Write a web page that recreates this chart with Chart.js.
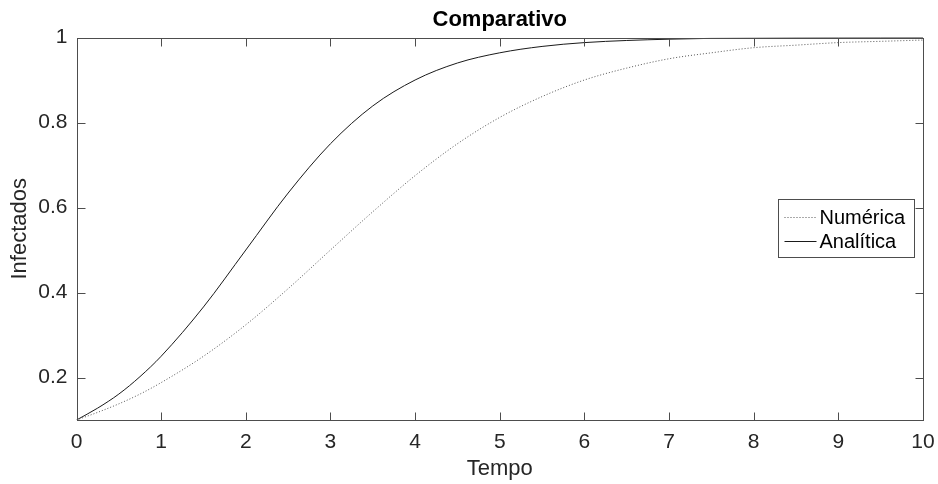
<!DOCTYPE html>
<html>
<head>
<meta charset="utf-8">
<title>Comparativo</title>
<script src="https://cdn.jsdelivr.net/npm/chart.js@4.4.1/dist/chart.umd.min.js"></script>
<style>
  html, body { margin: 0; padding: 0; background: #fff; }
  #wrap { width: 938px; height: 484px; }
</style>
</head>
<body>
<div id="wrap"><canvas id="chart" width="938" height="484"></canvas></div>
<script>
// --- data ---
const TEMPO = [0, 0.25, 0.5, 0.75, 1, 1.5, 2, 2.5, 3, 3.5, 4, 4.5, 5, 5.5, 6, 6.5, 7, 7.5, 8, 8.5, 9, 9.5, 10];
const NUMERICA = [0.1, 0.118, 0.138, 0.161, 0.188, 0.25, 0.324, 0.409, 0.5, 0.59, 0.675, 0.75, 0.812, 0.861, 0.9, 0.928, 0.95, 0.964, 0.976, 0.982, 0.988, 0.991, 0.994];
const ANALITICA = [0.1, 0.128, 0.161, 0.202, 0.25, 0.366, 0.5, 0.634, 0.75, 0.839, 0.9, 0.94, 0.964, 0.979, 0.988, 0.993, 0.996, 0.998, 0.9986, 0.9992, 0.9995, 0.9997, 0.9998];
const X_TICKS = [0, 1, 2, 3, 4, 5, 6, 7, 8, 9, 10];
const Y_TICKS = [0.2, 0.4, 0.6, 0.8, 1];
const SERIES_LABELS = ['Numérica', 'Analítica'];

const FONT = '"Liberation Sans", Arial, Helvetica, sans-serif';
const INK = '#262626';

const toPoints = (ys) => TEMPO.map((t, i) => ({ x: t, y: ys[i] }));

// MATLAB-ish box, inward ticks on all four sides, title over the plot area
const axesBox = {
  id: 'axesBox',
  afterDatasetsDraw(chart) {
    const { ctx, chartArea: a, scales } = chart;
    const L = Math.round(a.left) + 0.5, R = Math.round(a.right) + 0.5;
    const T = Math.round(a.top) + 0.5, B = Math.round(a.bottom) + 0.5;
    const len = 8;
    ctx.save();
    ctx.strokeStyle = '#4d4d4d';
    ctx.lineWidth = 1;
    ctx.strokeRect(L, T, R - L, B - T);
    ctx.beginPath();
    scales.x.ticks.forEach(tk => {
      const px = Math.round(scales.x.getPixelForValue(tk.value)) + 0.5;
      ctx.moveTo(px, B); ctx.lineTo(px, B - len);
      ctx.moveTo(px, T); ctx.lineTo(px, T + len);
    });
    scales.y.ticks.forEach(tk => {
      const py = Math.round(scales.y.getPixelForValue(tk.value)) + 0.5;
      ctx.moveTo(L, py); ctx.lineTo(L + len, py);
      ctx.moveTo(R, py); ctx.lineTo(R - len, py);
    });
    ctx.stroke();

    // title
    ctx.fillStyle = '#000';
    ctx.font = 'bold 22px ' + FONT;
    ctx.textAlign = 'center';
    ctx.textBaseline = 'alphabetic';
    ctx.fillText('Comparativo', (a.left + a.right) / 2, 26);
    ctx.restore();
  }
};

// legend box inside the plot, right middle
const boxLegend = {
  id: 'boxLegend',
  afterDraw(chart) {
    const { ctx } = chart;
    const x0 = 778.5, y0 = 199.5, w = 136, h = 58;
    ctx.save();
    ctx.fillStyle = '#fff';
    ctx.fillRect(x0, y0, w, h);
    ctx.strokeStyle = '#4d4d4d';
    ctx.lineWidth = 1;
    ctx.strokeRect(x0, y0, w, h);
    ctx.font = '20px ' + FONT;
    ctx.textAlign = 'left';
    ctx.textBaseline = 'middle';
    chart.data.datasets.forEach((ds, i) => {
      const y = Math.round(y0 + 17 + i * 24) + 0.5;
      ctx.strokeStyle = ds.borderColor;
      ctx.setLineDash(ds.borderDash || []);
      ctx.beginPath();
      ctx.moveTo(x0 + 6, y);
      ctx.lineTo(x0 + 38, y);
      ctx.stroke();
      ctx.setLineDash([]);
      ctx.fillStyle = '#000';
      ctx.fillText(ds.label, x0 + 41, y + 1);
    });
    ctx.restore();
  }
};

new Chart(document.getElementById('chart'), {
  type: 'line',
  data: {
    datasets: [
      {
        label: SERIES_LABELS[0],
        data: toPoints(NUMERICA),
        borderColor: '#555555',
        borderWidth: 1,
        borderDash: [1, 2],
        pointRadius: 0,
        cubicInterpolationMode: 'monotone',
        fill: false,
      },
      {
        label: SERIES_LABELS[1],
        data: toPoints(ANALITICA),
        borderColor: '#1a1a1a',
        borderWidth: 1,
        pointRadius: 0,
        cubicInterpolationMode: 'monotone',
        fill: false,
      },
    ],
  },
  options: {
    responsive: false,
    animation: false,
    devicePixelRatio: 1,
    layout: { padding: { left: 0, right: 15, top: 37.5, bottom: 0 } },
    plugins: {
      legend: { display: false },
      tooltip: { enabled: false },
      title: { display: false },
    },
    scales: {
      x: {
        type: 'linear',
        min: 0,
        max: 10,
        afterBuildTicks: (s) => { s.ticks = X_TICKS.map(v => ({ value: v })); },
        afterFit: (s) => { s.height = 64; s.paddingLeft = 0; s.paddingRight = 0; },
        grid: { display: false, drawTicks: false },
        border: { display: false },
        ticks: {
          padding: 10,
          color: INK,
          font: { family: FONT, size: 21 },
          maxRotation: 0,
          callback: (v) => String(v),
        },
        title: {
          display: true,
          text: 'Tempo',
          color: INK,
          font: { family: FONT, size: 22 },
          padding: { top: 0, bottom: 2 },
        },
      },
      y: {
        type: 'linear',
        min: 0.1,
        max: 1,
        afterBuildTicks: (s) => { s.ticks = Y_TICKS.map(v => ({ value: v })); },
        afterFit: (s) => { s.width = 76.5; s.paddingTop = 0; s.paddingBottom = 0; },
        grid: { display: false, drawTicks: false },
        border: { display: false },
        ticks: {
          padding: 9,
          color: INK,
          font: { family: FONT, size: 21 },
          callback: (v) => String(v),
        },
        title: {
          display: true,
          text: 'Infectados',
          color: INK,
          font: { family: FONT, size: 22 },
          padding: { top: 7, bottom: 0 },
        },
      },
    },
  },
  plugins: [axesBox, boxLegend],
});
</script>
</body>
</html>
